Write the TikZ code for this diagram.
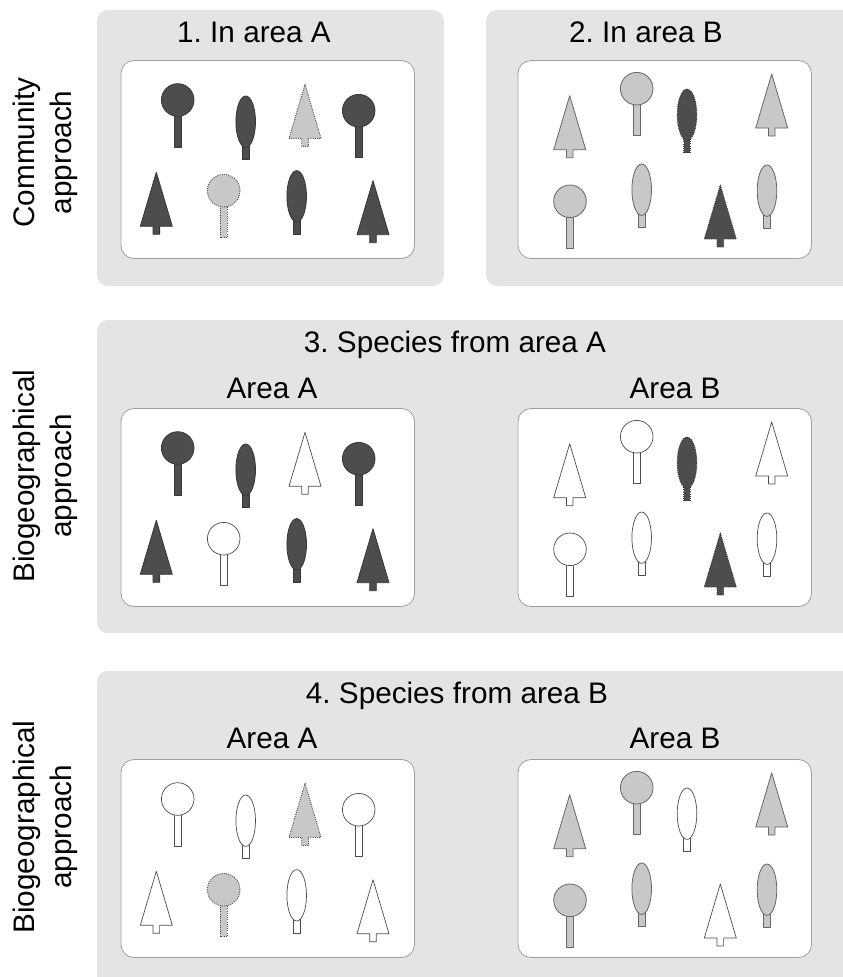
\documentclass[tikz,border=0pt]{standalone}
\usepackage{fontspec}
\setmainfont{Liberation Sans}
\definecolor{panelgray}{HTML}{E4E4E4}
\definecolor{darktree}{HTML}{4D4D4D}
\definecolor{lighttree}{HTML}{C8C8C8}
\definecolor{boxline}{HTML}{A0A0A0}
\tikzset{
  x=1pt,y=-1pt,
  panel/.style={fill=panelgray,draw=none,rounded corners=11pt},
  areabox/.style={fill=white,draw=boxline,line width=0.8pt,rounded corners=13pt},
  dk/.style={fill=darktree,draw=darktree!70!black,line width=0.8pt,line join=round},
  dkd/.style={fill=darktree,draw=darktree!70!black,line width=0.9pt,dash pattern=on 1pt off 1.2pt,line join=round},
  lt/.style={fill=lighttree,draw=black!60,line width=0.8pt,line join=round},
  ltd/.style={fill=lighttree,draw=black!70,line width=0.9pt,dash pattern=on 1pt off 1.2pt,line join=round},
  wh/.style={fill=white,draw=black!70,line width=0.7pt,line join=round},
  lab/.style={font=\fontsize{29.7}{30}\selectfont,inner sep=0pt,anchor=base},
  side/.style={font=\fontsize{29.7}{37}\selectfont,inner sep=0pt,anchor=center,rotate=90,align=center}
}
\newcommand{\roundT}[3]{% x y style
  \draw[#3] (#1-3.3,#2+15) rectangle (#1+3.3,#2+47);
  \draw[#3] (#1,#2) circle[radius=16.3];}
\newcommand{\ovalT}[3]{%
  \draw[#3] (#1-3.3,#2+20) rectangle (#1+3.3,#2+38);
  \draw[#3] (#1,#2) ellipse[x radius=9.8,y radius=25.7];}
\newcommand{\pineT}[3]{%
  \draw[#3] (#1-16,#2+54) -- (#1-3.3,#2+54) -- (#1-3.3,#2+62) -- (#1+3.3,#2+62) -- (#1+3.3,#2+54) -- (#1+16,#2+54) -- (#1,#2) -- cycle;}
% tree sets: 8 styles, vertical offset
\newcommand{\setA}[9]{%
  \roundT{177.7}{100+#1}{#2}
  \ovalT{245.7}{121.7+#1}{#3}
  \pineT{305}{84.3+#1}{#4}
  \roundT{358.7}{110.7+#1}{#5}
  \pineT{156.3}{172.3+#1}{#6}
  \roundT{223.7}{190.7+#1}{#7}
  \ovalT{296.7}{196.3+#1}{#8}
  \pineT{373}{180.7+#1}{#9}}
\newcommand{\setB}[9]{%
  \pineT{569.7}{95.7+#1}{#2}
  \roundT{636.7}{88.7+#1}{#3}
  \ovalT{687}{114.7+#1}{#4}
  \pineT{771.7}{74+#1}{#5}
  \roundT{570}{201.3+#1}{#6}
  \ovalT{641.7}{189.7+#1}{#7}
  \pineT{720.3}{185+#1}{#8}
  \ovalT{767}{190.7+#1}{#9}}
\frenchspacing
\begin{document}
\begin{tikzpicture}
\useasboundingbox (0,0) rectangle (843,977);
\fill[panel] (97,10) rectangle (444,286);
\fill[panel] (486,10) rectangle (860,286);
\fill[panel] (97,320) rectangle (860,633);
\fill[panel] (97,671) rectangle (860,1000);
\draw[areabox] (121,60.5) rectangle (414.5,258.5);
\draw[areabox] (518,60.5) rectangle (811.5,258.5);
\draw[areabox] (121,408.5) rectangle (414.5,606.5);
\draw[areabox] (518,408.5) rectangle (811.5,606.5);
\draw[areabox] (121,759.5) rectangle (414.5,957.5);
\draw[areabox] (518,759.5) rectangle (811.5,957.5);
\setA{0}{dk}{dk}{ltd}{dk}{dk}{ltd}{dk}{dk}
\setB{0}{lt}{lt}{dkd}{lt}{lt}{lt}{dkd}{lt}
\setA{348}{dk}{dk}{wh}{dk}{dk}{wh}{dk}{dk}
\setB{348}{wh}{wh}{dkd}{wh}{wh}{wh}{dkd}{wh}
\setA{699}{wh}{wh}{ltd}{wh}{wh}{ltd}{wh}{wh}
\setB{699}{lt}{lt}{wh}{lt}{lt}{lt}{wh}{lt}
\node[lab] (t1) at (254,42) {1. In area A};
\node[lab] (t2) at (646,42) {2. In area B};
\node[lab] (t3) at (455,352) {3. Species from area A};
\node[lab] (t4) at (457,703) {4. Species from area B};
\node[lab] (a3) at (272,398) {Area A};
\node[lab] (b3) at (675,398) {Area B};
\node[lab] (a4) at (272,748) {Area A};
\node[lab] (b4) at (675,748) {Area B};
\node[side] (s1) at (45,152.5) {Community\\approach};
\node[side] (s2) at (45,476) {Biogeographical\\approach};
\node[side] (s3) at (45,827) {Biogeographical\\approach};
\end{tikzpicture}
\end{document}
